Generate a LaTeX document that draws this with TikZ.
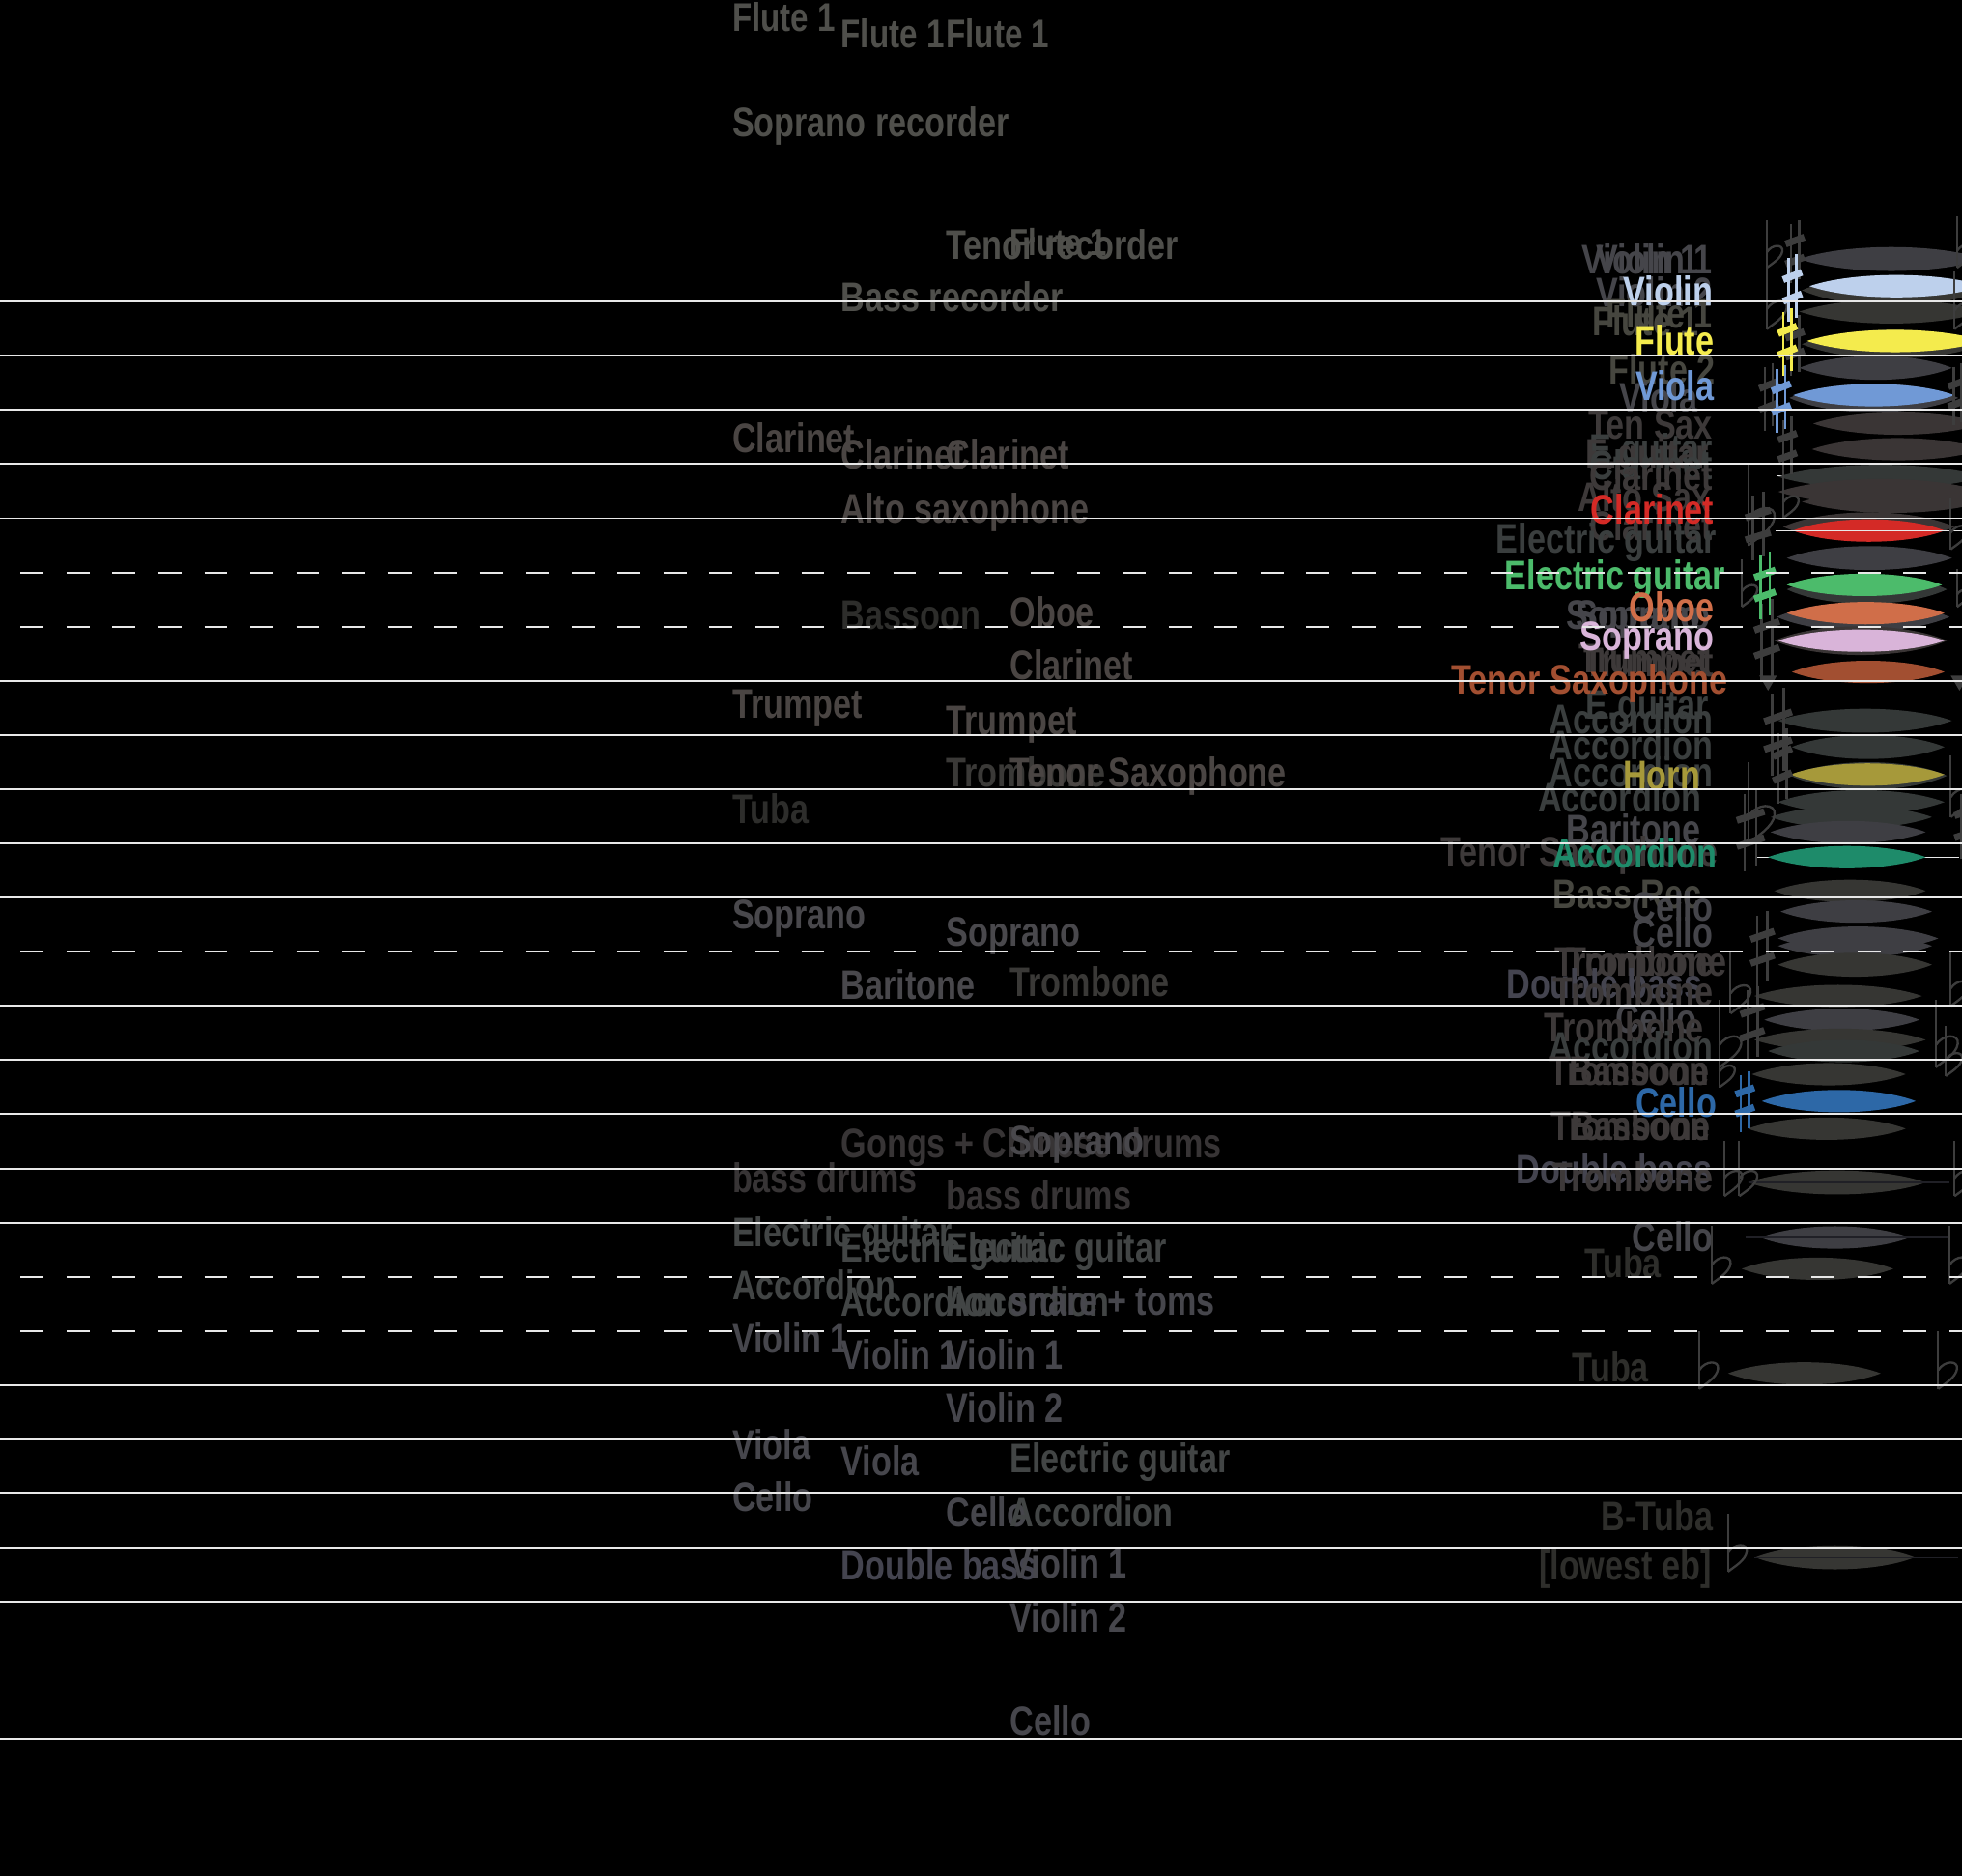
\documentclass[tikz,border=0pt]{standalone}
\usepackage{fontspec}
\setmainfont{Liberation Sans}[FakeStretch=0.8]
\definecolor{staff}{HTML}{E8E8E8}
\definecolor{flgray}{HTML}{4F4F4B}
\definecolor{reedgray}{HTML}{4A4543}
\definecolor{brassgray}{HTML}{3A3937}
\definecolor{tubagray}{HTML}{2D2D2B}
\definecolor{voxgray}{HTML}{49484C}
\definecolor{drumgray}{HTML}{373435}
\definecolor{accgray}{HTML}{424545}
\definecolor{strgray}{HTML}{46464C}
\definecolor{dbgray}{HTML}{44444F}
\definecolor{rA}{HTML}{45454A}
\definecolor{rB}{HTML}{46463F}
\definecolor{rC}{HTML}{3D3939}
\definecolor{rD}{HTML}{3A3E3E}
\definecolor{rE}{HTML}{44444F}
\definecolor{rF}{HTML}{2E2E2B}
\definecolor{lensA}{HTML}{3E3E43}
\definecolor{lensB}{HTML}{363633}
\definecolor{lensC}{HTML}{3A3535}
\definecolor{lensD}{HTML}{343837}
\definecolor{accidgray}{HTML}{3D3D3D}
\definecolor{violinc}{HTML}{BDD0EC}
\definecolor{flutec}{HTML}{F4EB4D}
\definecolor{violac}{HTML}{7099D6}
\definecolor{clarinetc}{HTML}{D42A26}
\definecolor{guitarc}{HTML}{4CBB6B}
\definecolor{oboec}{HTML}{D06E49}
\definecolor{sopranoc}{HTML}{D9B4D9}
\definecolor{tenorc}{HTML}{A24F31}
\definecolor{hornc}{HTML}{A6993A}
\definecolor{accordionc}{HTML}{1E8B6A}
\definecolor{celloc}{HTML}{2D68A7}

\begin{document}
\begin{tikzpicture}[x=1pt, y=-1pt,
  lbl/.style={anchor=base west, inner sep=0pt, font=\bfseries\fontsize{33}{33}\selectfont},
  rlbl/.style={lbl, anchor=base east},
  staffline/.style={draw=staff, line width=1.5pt},
  dashline/.style={staffline, dash pattern=on 18.4pt off 18.3pt},
  sharpsign/.pic={
    \draw[line width=1.9pt] (5,3) -- (5,50) (12.5,0) -- (12.5,47);
    \draw[line width=5.5pt] (0,19) -- (17.5,13.5) (0,35) -- (17.5,29.5);
  },
  flatsign/.pic={
    \draw[line width=1.5pt] (0,0) -- (0,46);
    \draw[line width=1.8pt] (0,31) .. controls (5,23) and (16,23) .. (15,30) .. controls (14,37) and (5,42) .. (0,46);
  },
]
  \useasboundingbox (0,0) rectangle (1568,1499);
  \fill[black] (0,0) rectangle (1568,1499);
  \begin{scope}
  \clip (0,0) rectangle (1568,1499);

  \foreach \x/\y/\c/\s/\t [count=\i] in {
    585/25/flgray/32/Flute 1, 585/109/flgray/33/Soprano recorder, 585/362/reedgray/33/Clarinet,
    585/574/reedgray/33/Trumpet, 585/658/tubagray/33/Tuba, 585/742/voxgray/33/Soprano,
    585/953/drumgray/33/bass drums, 585/996/accgray/33/Electric guitar, 585/1039/accgray/33/Accordion,
    585/1081/strgray/33/Violin 1, 585/1166/strgray/33/Viola, 585/1208/strgray/33/Cello,
    672/38/flgray/32/Flute 1, 672/249/flgray/33/Bass recorder, 672/375/reedgray/33/Clarinet,
    672/418/reedgray/33/Alto saxophone, 672/503/tubagray/33/Bassoon, 672/799/voxgray/33/Baritone,
    672/925/drumgray/33/Gongs + Chinese drums, 672/1009/accgray/33/Electric guitar,
    672/1052/accgray/33/Accordion, 672/1094/strgray/33/Violin 1, 672/1179/strgray/33/Viola,
    672/1263/dbgray/33/Double bass,
    756/38/flgray/32/Flute 1, 756/207/flgray/33/Tenor recorder, 756/375/reedgray/33/Clarinet,
    756/587/reedgray/33/Trumpet, 756/629/brassgray/33/Trombone, 756/756/voxgray/33/Soprano,
    756/967/drumgray/33/bass drums, 756/1009/accgray/33/Electric guitar, 756/1052/accgray/33/Accordion,
    756/1094/strgray/33/Violin 1, 756/1137/strgray/33/Violin 2, 756/1220/strgray/33/Cello,
    807/204/flgray/30/Flute 1, 807/501/reedgray/33/Oboe, 807/543/reedgray/33/Clarinet,
    807/629/reedgray/33/Tenor Saxophone, 807/796/brassgray/33/Trombone, 807/923/voxgray/33/Soprano,
    807/1051/strgray/33/snare + toms, 807/1177/accgray/33/Electric guitar, 807/1220/accgray/33/Accordion,
    807/1261/strgray/33/Violin 1, 807/1304/strgray/33/Violin 2, 807/1387/strgray/33/Cello}
    \node[lbl, text=\c, font=\bfseries\fontsize{\s}{\s}\selectfont] (left\i) at (\x,\y) {\t};

  \foreach \x/\y/\c/\t [count=\i] in {
    1358/219/rA/Violin 1, 1369/219/rA/Violin 1, 1369/245/rA/Violin 2, 1358/268/rB/Flute 1,
    1369/262/rB/Flute 1, 1371/307/rB/Flute 2, 1357/329/rA/Viola, 1369/351/rC/Ten Sax,
    1369/370/rD/E.guitar, 1366/374/rC/E.guitar, 1369/383/rD/Clarinet, 1369/392/rC/Clarinet,
    1367/409/rC/Alto Sax, 1369/432/rC/Clarinet, 1372/442/rD/Electric guitar,
    1359/503/rA/Soprano, 1367/503/rA/Soprano, 1370/541/rC/Trumpet, 1366/538/rC/Trumpet,
    1366/575/rD/E.guitar, 1369/586/rD/Accordion, 1369/607/rD/Accordion, 1369/629/rD/Accordion,
    1360/649/rD/Accordion, 1359/674/rA/Baritone, 1373/692/rC/Tenor Saxophone, 1360/726/rB/Bass Rec,
    1369/736/rA/Cello, 1369/757/rA/Cello, 1380/780/rC/Trombone, 1370/780/rC/Trombone,
    1361/798/rE/Double bass, 1369/804/rC/Trombone, 1356/826/rA/Cello, 1362/833/rC/Trombone,
    1369/848/rD/Accordion, 1366/867/rC/Bassoon, 1366/867/rC/Trombone, 1367/911/rC/Trombone,
    1367/911/rC/Bassoon, 1369/946/rE/Double bass, 1369/952/rC/Trombone, 1369/1000/rA/Cello,
    1328/1021/rF/Tuba, 1318/1104/rF/Tuba, 1369/1223/rF/B-Tuba, 1368/1263/rF/{[lowest eb]}}
    \node[rlbl, text=\c] (rg\i) at (\x,\y) {\t};

  \foreach \x/\y/\c/\t [count=\i] in {
    1369/244/violinc/Violin, 1370/284/flutec/Flute, 1370/320/violac/Viola,
    1370/419/clarinetc/Clarinet, 1379/471/guitarc/Electric guitar, 1370/497/oboec/Oboe,
    1370/520/sopranoc/Soprano, 1381/555/tenorc/Tenor Saxophone, 1359/631/hornc/Horn,
    1372/694/accordionc/Accordion, 1372/893/celloc/Cello}
    \node[rlbl, text=\c] (rc\i) at (\x,\y) {\t};

  \draw[staff, line width=1pt] (1420,380) -- (1568,380) (1403,685) -- (1566,685);

  \foreach \a/\b/\y/\h/\c in {
    1438/1585/207/7.5/lensA, 1440/1585/232/9.5/lensB, 1446/1585/228.7/7/violinc,
    1438/1585/249/7.5/lensB, 1440/1585/275/9/lensB, 1444/1585/272.5/7/flutec,
    1438/1560/294/7.5/lensA, 1430/1565/318/9/lensA, 1433/1562/315.8/7/violac,
    1449/1585/338.5/7/lensC, 1448/1585/359/7/lensC, 1421/1585/381/7.5/lensD,
    1421/1585/393/8/lensC, 1440/1585/401/7/lensC, 1425/1562/421/9/lensC,
    1433/1554/424/7/clarinetc, 1428/1560/446/7.5/lensA, 1428/1556/471/9/lensD,
    1428/1552/467.4/7/guitarc, 1420/1558/493/9/lensA, 1428/1554/490/7/oboec,
    1418/1556/512/9/lensC, 1421/1554/512/7/sopranoc, 1432/1554/537/7/tenorc,
    1421/1560/576/7.5/lensD, 1432/1554/597/7.5/lensD, 1431/1556/620/8.5/lensD,
    1431/1554/619/7/hornc, 1421/1554/641/7.5/lensD, 1415/1544/653/7/lensD,
    1415/1539/665/7/lensA, 1413/1539/685/7/accordionc, 1418/1539/712/7/lensB,
    1423/1544/728.5/7/lensA, 1421/1549/750/7.5/lensA, 1421/1544/756/7/lensA,
    1421/1544/771/7.5/lensB, 1402/1536/796/7/lensB, 1410/1534/815/7/lensA,
    1402/1539/831/7/lensB, 1413/1534/840/7/lensD, 1400/1523/858.5/7/lensB,
    1408/1531/880/7/celloc, 1397/1523/902/7/lensB, 1397/1539/945/7.5/lensB,
    1407/1526/989/7/lensA, 1392/1513/1014/7/lensB, 1381/1503/1097.6/7/lensB,
    1403/1530/1244.6/7.5/lensB}
    \fill[\c] (\a,\y) .. controls ({\a+(\b-\a)/4},{\y-1.7*\h}) and ({\b-(\b-\a)/4},{\y-1.7*\h}) .. (\b,\y)
      .. controls ({\b-(\b-\a)/4},{\y+1.7*\h}) and ({\a+(\b-\a)/4},{\y+1.7*\h}) .. cycle;

  \draw[staff, line width=1pt] (1419,424) -- (1568,424);
  \draw[rA!120, line width=1pt] (1397,945) -- (1558,945) (1395,989) -- (1558,989) (1402,1245) -- (1565,1245);

  \foreach \x/\y/\h [count=\i] in {
    1412/176/38, 1412/214/49, 1397/371/65, 1425/376/38, 1392/447/38, 1397/609/65,
    1383/761/49, 1374/799/54, 1374/831/38, 1378/912/44, 1390/912/44, 1368/980/46,
    1358/1064/46, 1381/1210/46, 1564/173/41, 1562/217/46, 1559/398/41, 1564/455/30,
    1559/604/49, 1559/761/43, 1547/799/54, 1555/820/40, 1562/912/44, 1558/980/46, 1549/1064/46}
    \pic[color=accidgray, scale=\h/46] (fl\i) at (\x,\y) {flatsign};

  \foreach \x/\y/\w/\h/\c [count=\i] in {
    1427/176/15/50/accidgray, 1427/252/15/48/accidgray, 1406/290/15/54/accidgray,
    1421/333/15/49/accidgray, 1395/393/20/55/accidgray, 1402/479/20/65/accidgray,
    1410/550/22/70/accidgray, 1417/582/15/60/accidgray, 1388/631/22/65/accidgray,
    1399/728/19/60/accidgray, 1391/788/19/60/accidgray, 1557/290/15/50/accidgray,
    1562/631/18/55/accidgray, 1425/203/15/54/violinc, 1421/246/15/54/flutec,
    1416/292/15/54/violac, 1402/441/17/54/guitarc, 1387/856/15/49/celloc}
    \pic[color=\c, xscale=\w/17.5, yscale=\h/50] (sh\i) at (\x,\y) {sharpsign};

  \fill[accidgray] (1406,540) -- (1420,540) -- (1413,552) -- cycle;
  \fill[accidgray] (1559,540) -- (1573,540) -- (1566,552) -- cycle;

  \foreach \k in {0,1,2,3,4,7,8,9,10,11,13,14,15,16,17,20,21,22,23,24}
    \draw[staffline] (0,{241+43.3*\k}) -- (1568,{241+43.3*\k});
  \draw[staffline] (0,1390) -- (1568,1390);
  \foreach \k in {5,6,12,18,19}
    \draw[dashline] (16.5,{241+43.3*\k}) -- (1568,{241+43.3*\k});
  \end{scope}
\end{tikzpicture}
\end{document}
